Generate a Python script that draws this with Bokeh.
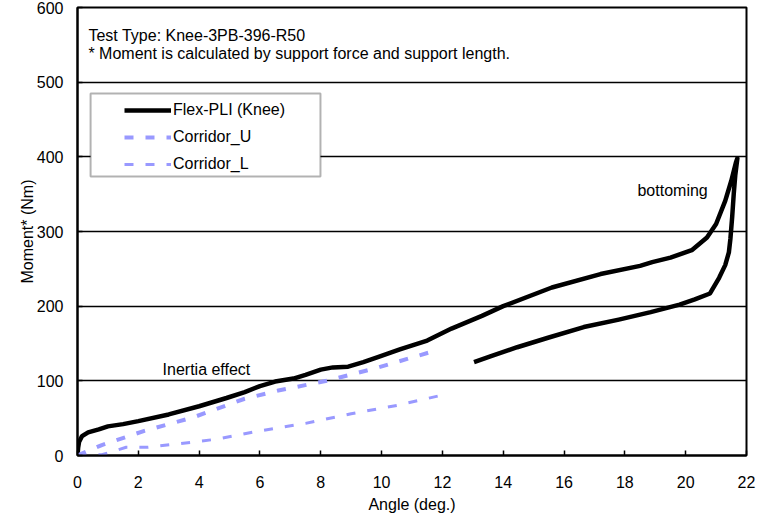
from bokeh.plotting import figure
from bokeh.models import Range1d, Legend, LegendItem, Label, BoxAnnotation, FixedTicker
from bokeh.embed import file_html
from bokeh.resources import INLINE

# ---- data ----
flex_angle = [0.00, 0.02, 0.05, 0.15, 0.35, 0.70, 1.00, 1.50, 2.00, 3.00, 4.00, 4.90, 5.50,
              6.00, 6.50, 7.10, 7.50, 8.00, 8.40, 8.90, 9.40, 9.90, 10.60, 11.50, 12.30, 13.30,
              14.00, 15.60, 17.20, 18.50, 18.90, 19.50, 20.20, 20.70, 21.00, 21.30,
              21.50, 21.65, 21.70,
              21.63, 21.58, 21.53, 21.47, 21.42, 21.30, 21.10, 20.80, 20.30, 19.80,
              18.85, 17.80, 16.65, 15.50, 14.46, 13.60, 13.04]
flex_moment = [0, 10, 18, 26, 31, 35, 39, 42, 46, 55, 66, 77, 85,
               93, 99, 103, 108, 115, 118, 119, 125, 132, 142, 154, 170, 187,
               200, 225, 243, 254, 259, 265, 275, 292, 310, 341,
               368, 392, 398,
               375, 350, 320, 290, 272, 255, 238, 217, 209, 202,
               192, 182, 172, 158, 145, 133, 125]

corr_u_angle = [0.0, 0.8, 2.2, 3.8, 5.5, 6.6, 8.2, 9.9, 11.9]
corr_u_moment = [0, 14, 33, 51, 76, 87, 100, 118, 142]

corr_l_angle = [0.0, 0.8, 1.6, 2.3, 3.8, 4.6, 6.0, 7.5, 9.0, 10.5, 12.0]
corr_l_moment = [0, 1, 11, 11, 18, 22, 33, 43, 56, 67, 81]

series_names = ["Flex-PLI (Knee)", "Corridor_U", "Corridor_L"]
x_ticks = [0, 2, 4, 6, 8, 10, 12, 14, 16, 18, 20, 22]
y_ticks = [0, 100, 200, 300, 400, 500, 600]

FONT = "Liberation Sans"
FS = "16px"
LAV = "#9999ff"

p = figure(width=767, height=519, x_range=Range1d(0, 22), y_range=Range1d(0, 600),
           output_backend="svg", toolbar_location=None, title=None,
           min_border_left=77, min_border_right=21, min_border_top=7, min_border_bottom=64)
p.background_fill_color = "white"
p.border_fill_color = "white"
p.outline_line_color = "black"
p.outline_line_width = 2

p.xgrid.visible = False
p.ygrid.ticker = FixedTicker(ticks=y_ticks)
p.ygrid.grid_line_color = "black"
p.ygrid.grid_line_width = 1.5

for ax in (p.xaxis[0], p.yaxis[0]):
    ax.axis_line_color = "black"
    ax.axis_line_width = 2
    ax.major_tick_line_color = "black"
    ax.major_tick_line_width = 1.5
    ax.major_tick_in = 5
    ax.major_tick_out = 0
    ax.minor_tick_line_color = None
    ax.major_label_text_font = FONT
    ax.major_label_text_font_size = FS
    ax.major_label_text_color = "black"
    ax.axis_label_text_font = FONT
    ax.axis_label_text_font_size = FS
    ax.axis_label_text_font_style = "normal"
    ax.axis_label_text_color = "black"

p.xaxis[0].ticker = FixedTicker(ticks=x_ticks)
p.yaxis[0].ticker = FixedTicker(ticks=y_ticks)
p.xaxis[0].axis_label = "Angle (deg.)"
p.yaxis[0].axis_label = "Moment* (Nm)"
p.xaxis[0].major_label_standoff = 20
p.xaxis[0].axis_label_standoff = 5
p.yaxis[0].major_label_standoff = 14
p.yaxis[0].axis_label_standoff = -2

r_flex = p.line(flex_angle, flex_moment, line_color="black", line_width=4.5, line_join="round")
r_u = p.line(corr_u_angle, corr_u_moment, line_color=LAV, line_width=4, line_dash="9 12")
r_l = p.line(corr_l_angle, corr_l_moment, line_color=LAV, line_width=3, line_dash="9 12")

# legend frame
box = BoxAnnotation(left=0.43, right=7.99, top=484.8, bottom=373.6,
                    fill_color="white", fill_alpha=1.0, line_color="black", line_width=2)
p.add_layout(box)

legend = Legend(items=[LegendItem(label=series_names[0], renderers=[r_flex]),
                       LegendItem(label=series_names[1], renderers=[r_u]),
                       LegendItem(label=series_names[2], renderers=[r_l])],
                location=(47, 281), padding=0, margin=0, spacing=7,
                label_height=20, glyph_height=20, glyph_width=47, label_standoff=2,
                border_line_alpha=0, background_fill_alpha=0,
                label_text_font=FONT, label_text_font_size=FS, label_text_color="black")
p.add_layout(legend, "center")

labels = [
    ("Test Type: Knee-3PB-396-R50", 0.36, 562.5, "left"),
    ("* Moment is calculated by support force and  support length.", 0.36, 538.4, "left"),
    ("bottoming", 19.57, 354.9, "center"),
    ("Inertia effect", 4.24, 115.2, "center"),
]
for txt, lx, ly, al in labels:
    p.add_layout(Label(x=lx, y=ly, text=txt, text_font=FONT, text_font_size=FS,
                       text_color="black", text_align=al, text_baseline="middle"))

open("out.html", "w").write(file_html(p, INLINE))
